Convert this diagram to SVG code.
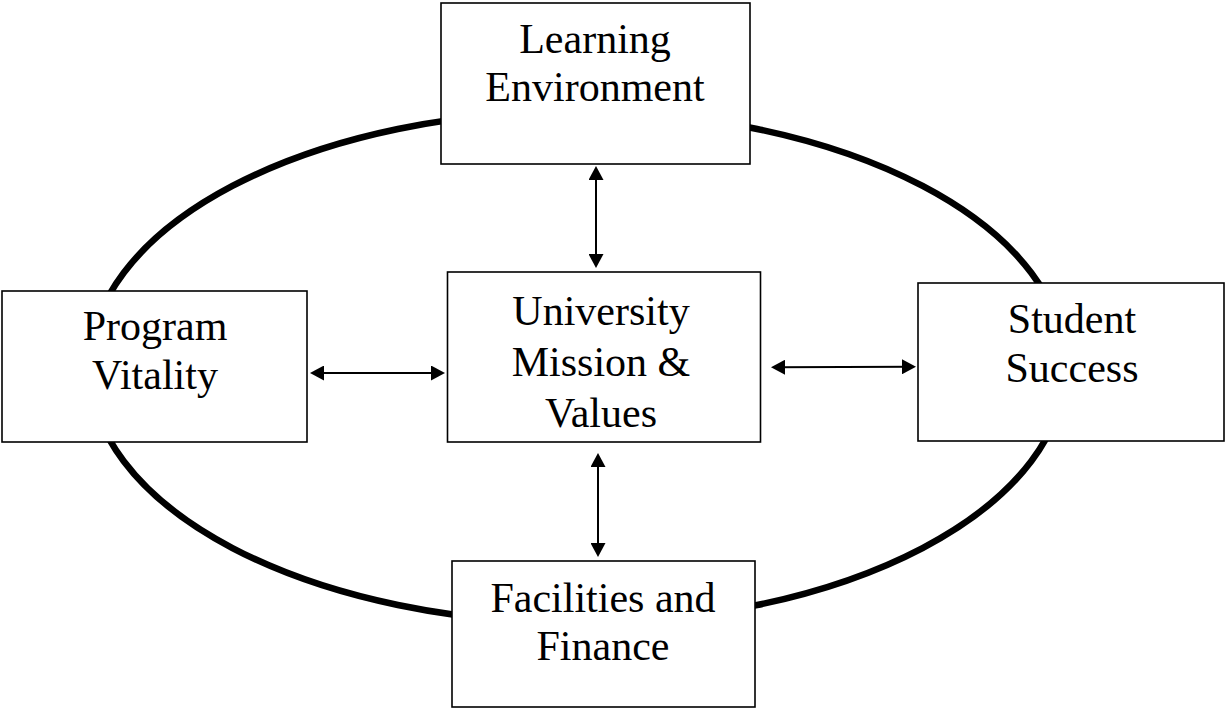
<svg xmlns="http://www.w3.org/2000/svg" width="1225" height="709" viewBox="0 0 1225 709">
  <style>
    .box { fill: #ffffff; stroke: #000000; stroke-width: 1.6; }
    .label { font-family: "Liberation Serif", "Times New Roman", serif; font-size: 42px; fill: #000000; text-anchor: middle; }
    .link { stroke: #000000; stroke-width: 2; fill: none; marker-start: url(#head); marker-end: url(#head); }
    .ring { fill: none; stroke: #000000; stroke-width: 6.5; }
  </style>
  <defs>
    <marker id="head" viewBox="0 0 14 15" refX="10" refY="7.5" markerWidth="14" markerHeight="15" markerUnits="userSpaceOnUse" orient="auto-start-reverse">
      <path d="M0,0 L14,7.5 L0,15 Z" fill="#000000"/>
    </marker>
  </defs>

  <rect width="1225" height="709" fill="#ffffff"/>

  <!-- outer cycle -->
  <ellipse class="ring" cx="577.5" cy="367" rx="488" ry="256"/>

  <g id="learning-environment">
    <rect class="box" x="441" y="3" width="309" height="161"/>
    <text class="label" x="595" y="53">Learning</text>
    <text class="label" x="595" y="101">Environment</text>
  </g>

  <g id="program-vitality">
    <rect class="box" x="2" y="291" width="305" height="151"/>
    <text class="label" x="155" y="340">Program</text>
    <text class="label" x="155" y="389">Vitality</text>
  </g>

  <g id="university-mission">
    <rect class="box" x="447.5" y="272" width="313" height="170"/>
    <text class="label" x="601" y="325">University</text>
    <text class="label" x="601" y="376">Mission &amp;</text>
    <text class="label" x="601" y="427">Values</text>
  </g>

  <g id="student-success">
    <rect class="box" x="918" y="283" width="306" height="158"/>
    <text class="label" x="1072" y="333">Student</text>
    <text class="label" x="1072" y="382">Success</text>
  </g>

  <g id="facilities-finance">
    <rect class="box" x="452" y="561" width="303" height="146"/>
    <text class="label" x="603" y="612">Facilities and</text>
    <text class="label" x="603" y="660">Finance</text>
  </g>

  <g id="connectors">
    <line class="link" x1="596" y1="170" x2="596" y2="264"/>
    <line class="link" x1="314" y1="373" x2="441" y2="373"/>
    <line class="link" x1="775" y1="367.3" x2="912" y2="366.7"/>
    <line class="link" x1="598" y1="457" x2="598" y2="553"/>
  </g>
</svg>
